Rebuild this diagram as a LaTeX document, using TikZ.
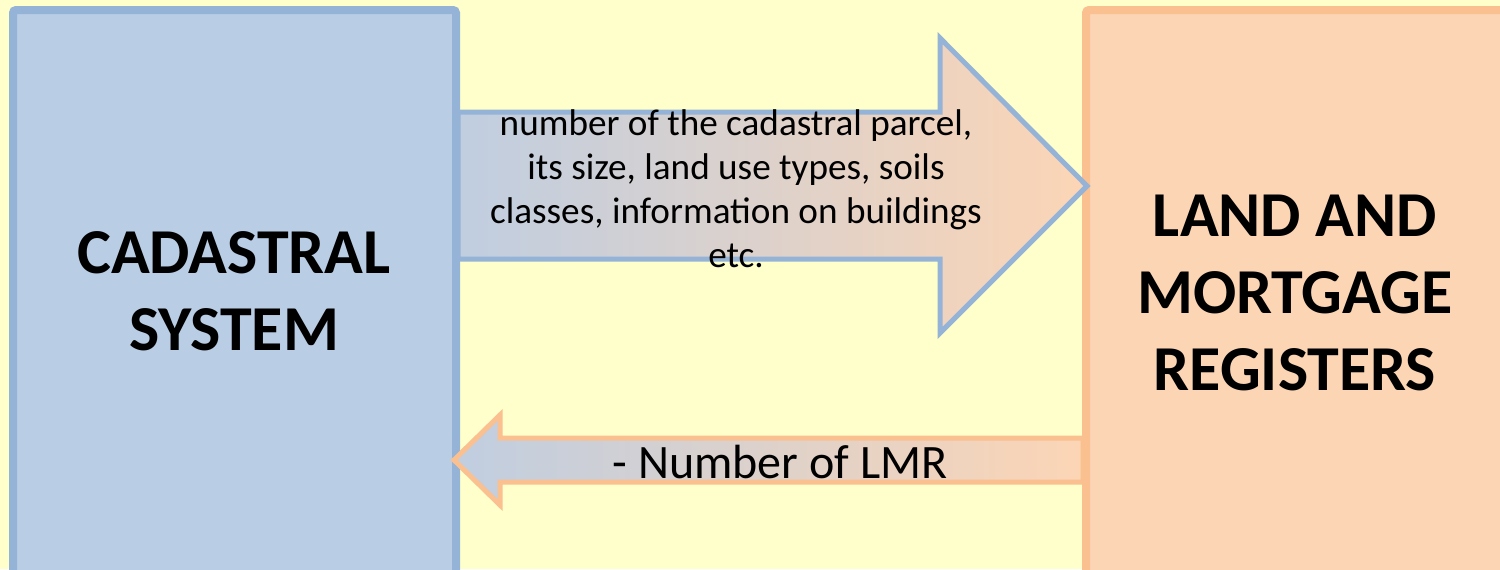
\documentclass[tikz,border=0pt]{standalone}
\usepackage{fontspec}
\setmainfont{Carlito}
\begin{document}
\begin{tikzpicture}[x=0.5pt,y=-0.5pt, line join=miter]
\definecolor{bg}{HTML}{FFFFCC}
\definecolor{blueline}{HTML}{95B3D7}
\definecolor{bluefill}{HTML}{B9CDE5}
\definecolor{orgline}{HTML}{FAC090}
\definecolor{orgfill}{HTML}{FCD5B5}
\tikzset{
 box/.style={draw, line width=4pt, rounded corners=1.5pt, inner sep=0pt, outer sep=0pt, anchor=north west},
 bigtext/.style={font=\fontsize{32}{38.5}\selectfont\bfseries, align=center},
 smalltext/.style={font=\fontsize{18.6}{22}\selectfont, align=center},
 flow/.style={line width=2.5pt, left color=bluefill!90!orgfill, right color=orgfill}
}
\fill[bg] (0,0) rectangle (1500,569);
\useasboundingbox (0,0) rectangle (1500,569);
% boxes
\node[box, draw=blueline, fill=bluefill, minimum width=221.5pt, minimum height=320pt] (cad) at (13,10) {};
\node[box, draw=orgline, fill=orgfill, minimum width=240pt, minimum height=320pt] (lmr) at (1086,10) {};
% top arrow
\path[flow, draw=blueline] (458,112) -- (940,112) -- (940,38) -- (1087,186) -- (940,333) -- (940,259) -- (458,259) -- cycle;
% bottom arrow
\path[flow, draw=orgline] (1083,438) -- (500,438) -- (500,415) -- (454,460) -- (500,505) -- (500,482) -- (1083,482) -- cycle;
% texts
\node[bigtext] (cadtext) at (234,291) {CADASTRAL\\SYSTEM};
\node[bigtext] (lmrtext) at (1295,293) {LAND AND\\MORTGAGE\\REGISTERS};
\node[smalltext] (toptext) at (736,189) {number of the cadastral parcel,\\its size, land use types, soils\\classes, information on buildings\\etc.};
\node[font=\fontsize{24}{28}\selectfont] (bottext) at (780,462) {- Number of LMR};
\end{tikzpicture}
\end{document}
